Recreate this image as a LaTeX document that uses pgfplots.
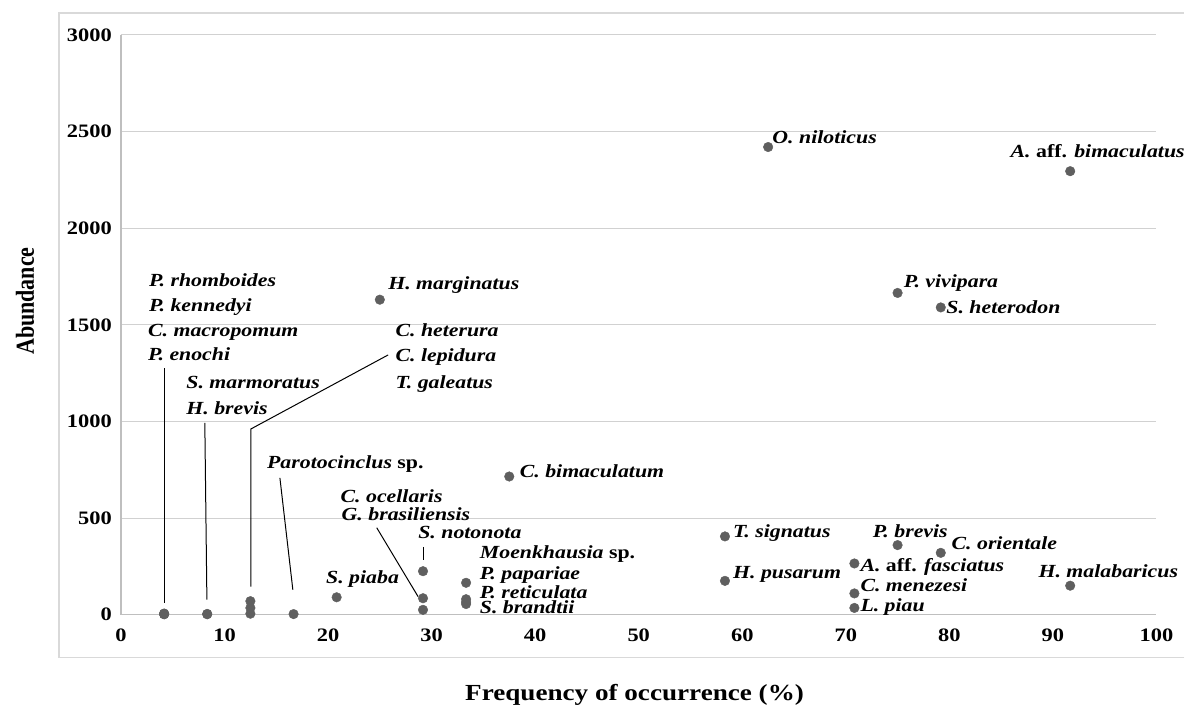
\documentclass[border=0pt]{standalone}
\usepackage{pgfplots}
\pgfplotsset{compat=1.18}
\usepackage{fontspec}
\setmainfont{Liberation Serif}[FakeStretch=1.18]
\newfontfamily\plainserif{Liberation Serif}
\definecolor{dotgray}{RGB}{95,95,95}

\begin{document}
\begin{tikzpicture}[
  lab/.style={anchor=base west, inner sep=0pt,
              font=\bfseries\itshape\fontsize{18.5}{18.5}\selectfont}]
\begin{axis}[
  scale only axis, width=1036pt, height=580pt,
  xmin=0, xmax=100, ymin=0, ymax=3000,
  xtick={0,10,...,100}, ytick={0,500,...,3000},
  ymajorgrids, grid style={black!18, line width=1pt},
  axis x line*=bottom, axis y line*=left,
  axis line style={black!25, line width=1.2pt, -},
  major tick length=0pt,
  tick label style={font=\bfseries\fontsize{19}{19}\selectfont},
  /pgf/number format/assume math mode=true,
  /pgf/number format/1000 sep={},
  xticklabel style={anchor=center, inner sep=0pt, yshift=-21pt},
  yticklabel style={anchor=east, inner sep=0pt, xshift=-9pt},
  xlabel={Frequency of occurrence (\%)},
  xlabel style={at={(rel axis cs:0.496,-0.138)}, anchor=center,
                font=\bfseries\fontsize{23}{23}\selectfont},
  ylabel={\scalebox{1}[1.18]{Abundance}},
  ylabel style={at={(rel axis cs:-0.0927,0.541)}, anchor=center,
                font=\plainserif\bfseries\fontsize{22}{22}\selectfont},
  clip=false,
]
% picture extent and chart area frame
\path (rel axis cs:-0.1168,-0.1569) rectangle (rel axis cs:1.0270,1.0603);
\draw[black!15, line width=1.2pt]
  (rel axis cs:1.0270,-0.0741) -- (rel axis cs:-0.0598,-0.0741)
  -- (rel axis cs:-0.0598,1.0379) -- (rel axis cs:1.0270,1.0379);

\addplot[only marks, mark=*, mark size=4.8pt, color=dotgray] coordinates {
  (4.17,2) (4.17,3) (4.17,4) (4.17,6)
  (8.33,2) (8.33,4)
  (12.5,70) (12.5,35) (12.5,5)
  (16.67,3)
  (20.83,90)
  (25,1630)
  (29.17,225) (29.17,85) (29.17,25)
  (33.33,165) (33.33,80) (33.33,65) (33.33,55)
  (37.5,715)
  (58.33,405) (58.33,175)
  (62.5,2420)
  (70.83,265) (70.83,110) (70.83,35)
  (75,1665) (75,360)
  (79.17,1590) (79.17,320)
  (91.67,2295) (91.67,150)
};

% leader lines
\draw[line width=1pt] (axis cs:4.2,1276) -- (axis cs:4.2,62);
\draw[line width=1pt] (axis cs:8.1,992) -- (axis cs:8.2,532) -- (axis cs:8.3,78);
\draw[line width=1pt] (axis cs:25.8,1344) -- (axis cs:12.55,961) -- (axis cs:12.55,145);
\draw[line width=1pt] (axis cs:15.35,708) -- (axis cs:16.6,129);
\draw[line width=1pt] (axis cs:24.7,450) -- (axis cs:28.7,93);
\draw[line width=1pt] (axis cs:29.2,351) -- (axis cs:29.2,284);

% species labels
\node[lab] at (axis cs:2.7,1700) {P. rhomboides};
\node[lab] at (axis cs:2.7,1571) {P. kennedyi};
\node[lab] at (axis cs:2.6,1442) {C. macropomum};
\node[lab] at (axis cs:2.6,1313) {P. enochi};
\node[lab] at (axis cs:6.3,1168) {S. marmoratus};
\node[lab] at (axis cs:6.3,1034) {H. brevis};
\node[lab] at (axis cs:26.5,1437) {C. heterura};
\node[lab] at (axis cs:26.5,1308) {C. lepidura};
\node[lab] at (axis cs:26.5,1173) {T. galeatus};
\node[lab] at (axis cs:25.8,1685) {H. marginatus};
\node[lab] at (axis cs:14.1,755) {Parotocinclus \upshape sp.};
\node[lab] at (axis cs:21.2,579) {C. ocellaris};
\node[lab] at (axis cs:21.3,486) {G. brasiliensis};
\node[lab] at (axis cs:28.7,393) {S. notonota};
\node[lab] at (axis cs:19.8,160) {S. piaba};
\node[lab] at (axis cs:34.65,289) {Moenkhausia \upshape sp.};
\node[lab] at (axis cs:34.65,181) {P. papariae};
\node[lab] at (axis cs:34.65,83) {P. reticulata};
\node[lab] at (axis cs:34.65,5) {S. brandtii};
\node[lab] at (axis cs:38.5,708) {C. bimaculatum};
\node[lab] at (axis cs:62.9,2440) {O. niloticus};
\node[lab] at (axis cs:85.9,2367) {A. {\upshape aff.} bimaculatus};
\node[lab] at (axis cs:75.6,1691) {P. vivipara};
\node[lab] at (axis cs:79.7,1559) {S. heterodon};
\node[lab] at (axis cs:59.1,398) {T. signatus};
\node[lab] at (axis cs:59.1,188) {H. pusarum};
\node[lab] at (axis cs:72.6,398) {P. brevis};
\node[lab] at (axis cs:80.2,336) {C. orientale};
\node[lab] at (axis cs:71.4,221) {A. {\upshape aff.} fasciatus};
\node[lab] at (axis cs:71.4,120) {C. menezesi};
\node[lab] at (axis cs:71.4,16) {L. piau};
\node[lab] at (axis cs:88.6,191) {H. malabaricus};
\end{axis}
\end{tikzpicture}
\end{document}
